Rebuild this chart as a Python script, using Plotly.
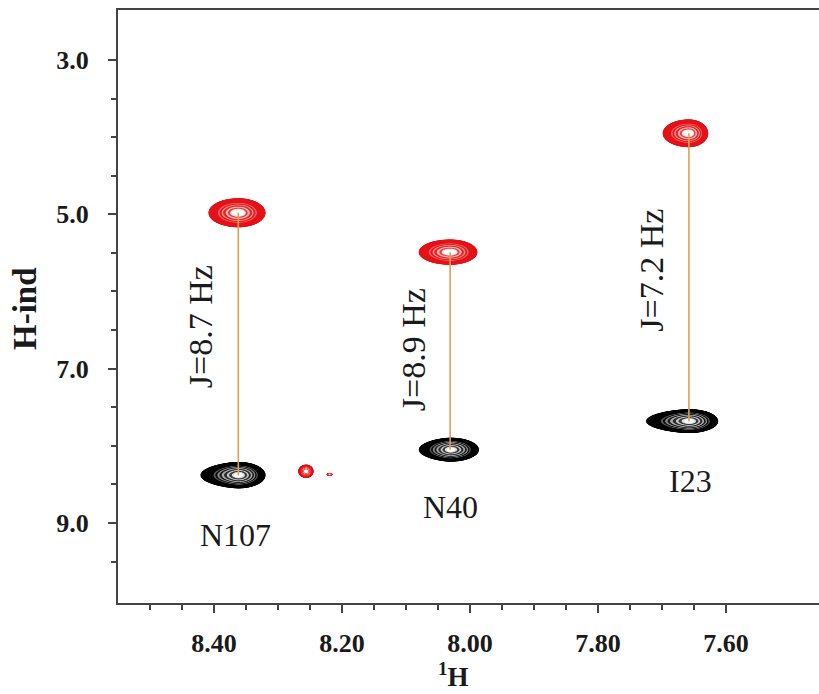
import numpy as np
import plotly.graph_objects as go

# ---- peak table (1H shift, H-ind shift, contour half-extents) ----
residues = ["N107", "N40", "I23"]
h_shift = [8.362, 8.031, 7.658]          # 1H (ppm)
lower_shift = [8.38, 8.05, 7.68]         # black (lower) component, H-ind
upper_shift = [4.98, 5.49, 3.95]         # red (upper) component, H-ind
j_labels = ["J=8.7 Hz", "J=8.9 Hz", "J=7.2 Hz"]

# half-extents of the outermost contour: (left ppm, right ppm, vertical)
lower_extent = [(0.076, 0.052, 0.21), (0.063, 0.055, 0.19), (0.086, 0.056, 0.19)]
upper_extent = [(0.057, 0.052, 0.23), (0.060, 0.052, 0.20), (0.050, 0.037, 0.22)]

# minor red cross-peaks
extra_x = [8.256, 8.219]
extra_y = [8.33, 8.37]
extra_extent = [(0.015, 0.014, 0.105), (0.006, 0.005, 0.02)]

# label placement (1H, H-ind)
res_label_x = [8.366, 8.031, 7.656]
res_label_y = [9.16, 8.79, 8.455]
j_label_x = [8.422, 8.089, 7.716]
j_label_y = [6.45, 6.76, 5.72]

x_range = [8.55, 7.4547]
y_range = [10.037, 2.352]

FONT = "Liberation Serif, Times New Roman, serif"
AXIS_COLOR = "#444444"
TEXT_COLOR = "#1a1a1a"


def step_scale(zmin, zmax, bands):
    """Piecewise-constant colorscale from (upper z, colour) bands."""
    scale = []
    lo = zmin
    for hi, col in bands:
        a = (lo - zmin) / (zmax - zmin)
        b = (hi - zmin) / (zmax - zmin)
        scale.append([a, col])
        scale.append([b, col])
        lo = hi
    return scale


ZMIN, ZMAX = -1.5, 0.0
black_scale = step_scale(ZMIN, ZMAX, [
    (-1.0, "rgba(255,255,255,0)"),
    (-0.50, "#000000"),
    (-0.44, "#5a5a5a"),
    (-0.38, "#0c0c0c"),
    (-0.32, "#8a8a8a"),
    (-0.26, "#1a1a1a"),
    (-0.20, "#a8a8a8"),
    (-0.14, "#2a2a2a"),
    (-0.09, "#c4c4c4"),
    (-0.05, "#3a3a3a"),
    (-0.025, "#dcdcdc"),
    (0.0, "#ffffff"),
])
red_scale = step_scale(ZMIN, ZMAX, [
    (-1.0, "rgba(255,255,255,0)"),
    (-0.45, "#e3141b"),
    (-0.38, "#ef5a5a"),
    (-0.31, "#e51c1c"),
    (-0.24, "#f28a8a"),
    (-0.17, "#e62828"),
    (-0.11, "#f7b5b5"),
    (-0.06, "#e84040"),
    (-0.03, "#fde0e0"),
    (0.0, "#ffffff"),
])


def peak_trace(x0, y0, ext, scale, sharp_left=True):
    hl, hr, hv = ext
    xs = np.linspace(x0 - 1.2 * hr, x0 + 1.2 * hl, 181)
    ys = np.linspace(y0 - 1.2 * hv, y0 + 1.2 * hv, 111)
    X, Y = np.meshgrid(xs, ys)
    dx = X - x0
    u = np.where(dx > 0, dx / hl, dx / hr)
    v = (Y - y0) / hv
    # the higher-ppm side tails off to a point
    pu = np.where((dx > 0) & sharp_left, np.abs(u) ** 1.6, u ** 2)
    z = np.maximum(-(pu + v ** 2), ZMIN)
    return go.Contour(
        x=xs, y=ys, z=z,
        zmin=ZMIN, zmax=ZMAX, autocontour=False,
        contours=dict(start=-1.0, end=-0.01, size=0.01, coloring="fill",
                      showlines=False),
        colorscale=scale, showscale=False, hoverinfo="skip",
        line=dict(width=0),
    )


fig = go.Figure()

for i in range(len(residues)):
    fig.add_trace(peak_trace(h_shift[i], lower_shift[i], lower_extent[i], black_scale))
    fig.add_trace(peak_trace(h_shift[i], upper_shift[i], upper_extent[i], red_scale, sharp_left=False))

for i in range(len(extra_x)):
    fig.add_trace(peak_trace(extra_x[i], extra_y[i], extra_extent[i], red_scale, sharp_left=False))

# coupling connectors between the two components
for i in range(len(residues)):
    fig.add_trace(go.Scatter(
        x=[h_shift[i], h_shift[i]], y=[upper_shift[i], lower_shift[i]],
        mode="lines", line=dict(color="rgb(222,160,80)", width=1.6),
        hoverinfo="skip", showlegend=False,
    ))

annotations = []
for i in range(len(residues)):
    annotations.append(dict(
        x=res_label_x[i], y=res_label_y[i], xref="x", yref="y", text=residues[i],
        showarrow=False, font=dict(family=FONT, size=32, color=TEXT_COLOR),
        xanchor="center", yanchor="middle",
    ))
    annotations.append(dict(
        x=j_label_x[i], y=j_label_y[i], xref="x", yref="y", text=j_labels[i],
        showarrow=False, textangle=-90, font=dict(family=FONT, size=34, color=TEXT_COLOR),
        xanchor="center", yanchor="middle",
    ))

# axis titles
annotations.append(dict(
    x=-0.1327, y=0.4975, xref="paper", yref="paper", text="H-ind", textangle=-90,
    showarrow=False, font=dict(family=FONT, size=33, color=TEXT_COLOR, weight="bold"),
    xanchor="center", yanchor="middle",
))
annotations.append(dict(
    x=0.478, y=-0.122, xref="paper", yref="paper", text="<sup>1</sup>H",
    showarrow=False, font=dict(family=FONT, size=27, color=TEXT_COLOR, weight="bold"),
    xanchor="center", yanchor="middle",
))

x_major = [8.40, 8.20, 8.00, 7.80, 7.60]
x_minor = [8.50, 8.45, 8.35, 8.30, 8.25, 8.15, 8.10, 8.05, 7.95, 7.90, 7.85,
           7.75, 7.70, 7.65]
y_major = [3.0, 5.0, 7.0, 9.0]
y_minor = [3.5, 4.0, 4.5, 5.5, 6.0, 6.5, 7.5, 8.0, 8.5, 9.5]

fig.update_layout(
    width=819, height=694,
    margin=dict(l=118, r=0, t=10, b=91),
    paper_bgcolor="white", plot_bgcolor="white",
    showlegend=False,
    annotations=annotations,
    xaxis=dict(
        range=x_range, showgrid=False, zeroline=False,
        showline=True, linecolor=AXIS_COLOR, linewidth=2, mirror=True,
        tickmode="array", tickvals=x_major, ticktext=[f"{v:.2f}" for v in x_major],
        ticks="outside", ticklen=8, tickwidth=2, tickcolor=AXIS_COLOR,
        minor=dict(tickmode="array", tickvals=x_minor, ticks="outside",
                   ticklen=5, tickwidth=2, tickcolor=AXIS_COLOR),
        tickfont=dict(family=FONT, size=26, color=TEXT_COLOR, weight="bold"),
        ticklabelstandoff=8,
    ),
    yaxis=dict(
        range=y_range, showgrid=False, zeroline=False,
        showline=True, linecolor=AXIS_COLOR, linewidth=2, mirror=False,
        tickmode="array", tickvals=y_major, ticktext=[f"{v:.1f}" for v in y_major],
        ticks="outside", ticklen=8, tickwidth=2, tickcolor=AXIS_COLOR,
        minor=dict(tickmode="array", tickvals=y_minor, ticks="outside",
                   ticklen=5, tickwidth=2, tickcolor=AXIS_COLOR),
        tickfont=dict(family=FONT, size=26, color=TEXT_COLOR, weight="bold"),
        ticklabelstandoff=14,
    ),
)

fig.write_html("out.html")
